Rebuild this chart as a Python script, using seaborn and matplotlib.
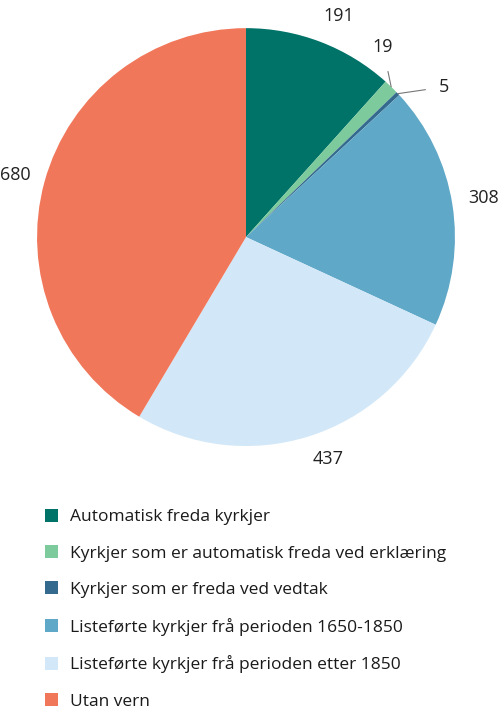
"""Pie chart of church protection status (kyrkjer og vern)."""

import matplotlib
import numpy as np
import seaborn as sns

matplotlib.use("Agg")
import matplotlib.pyplot as plt

categories = [
    "Automatisk freda kyrkjer",
    "Kyrkjer som er automatisk freda ved erklæring",
    "Kyrkjer som er freda ved vedtak",
    "Listeførte kyrkjer frå perioden 1650-1850",
    "Listeførte kyrkjer frå perioden etter 1850",
    "Utan vern",
]
counts = [191, 19, 5, 308, 437, 680]
colors = ["#007369", "#7dcb9c", "#356a8f", "#60a8c7", "#d2e8f8", "#f1775a"]

sns.set_theme(style="white")
plt.rcParams["font.family"] = ["Open Sans", "DejaVu Sans"]

fig = plt.figure(figsize=(5.0, 7.18), dpi=100)
ax = fig.add_axes([0.074, 0.3788, 0.836, 0.582])

wedges, _ = ax.pie(
    counts,
    colors=colors,
    startangle=90,
    counterclock=False,
    radius=1.0,
    wedgeprops={"linewidth": 0},
)
ax.set_xlim(-1, 1)
ax.set_ylim(-1, 1)
ax.set_aspect("equal")

# where each value label sits (pie radius = 1); small slices get leader lines
label_pos = [(0.445, 1.057), (0.655, 0.91), (0.945, 0.718),
             (1.139, 0.187), (0.392, -1.062), (-1.105, 0.297)]
leader_shrink = {1: 9, 2: 7}

total = sum(counts)
cum = np.cumsum([0] + counts)
mid_angles = 90 - (cum[:-1] + np.array(counts) / 2) / total * 360
num_size = 13
for i, value in enumerate(counts):
    theta = np.deg2rad(mid_angles[i])
    edge = (np.cos(theta), np.sin(theta))
    if i in leader_shrink:
        ax.annotate(
            str(value), xy=edge, xytext=label_pos[i], ha="center", va="center",
            fontsize=num_size, color="#222222",
            arrowprops={"arrowstyle": "-", "color": "#777777", "lw": 0.8,
                        "shrinkA": leader_shrink[i], "shrinkB": 0},
        )
    else:
        ax.text(
            *label_pos[i], str(value),
            ha="center", va="center", fontsize=num_size, color="#222222",
        )

fig.legend(
    wedges,
    categories,
    loc="upper left",
    bbox_to_anchor=(0.09, 0.291),
    frameon=False,
    fontsize=12.5,
    handlelength=0.75,
    handleheight=0.75,
    handletextpad=0.7,
    labelspacing=1.14,
    borderpad=0,
    borderaxespad=0,
    labelcolor="#1a1a1a",
)

fig.savefig("out.png", dpi=100)
